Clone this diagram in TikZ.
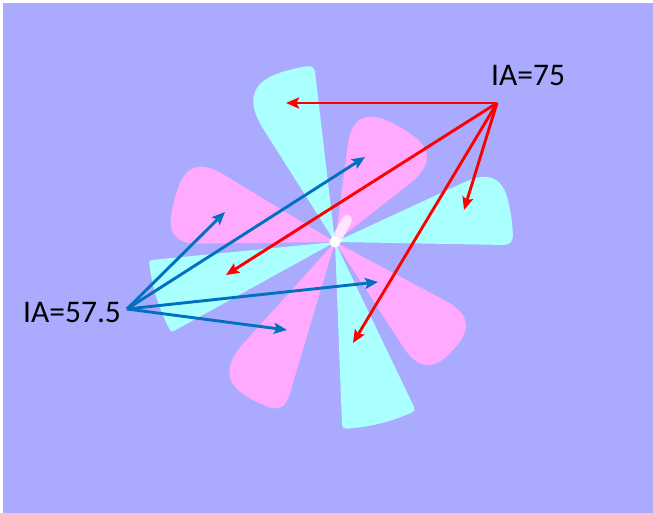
\documentclass[tikz,border=0pt]{standalone}
\usepackage{fontspec}
\setmainfont{Carlito}
\usetikzlibrary{arrows.meta,calc}
\definecolor{bgc}{RGB}{170,170,254}
\definecolor{cyanp}{RGB}{170,255,255}
\definecolor{pinkp}{RGB}{255,170,255}
\definecolor{redc}{RGB}{255,0,0}
\definecolor{bluec}{RGB}{0,112,192}
\tikzset{
  redarrow/.style={draw=redc, line width=2.9pt, -{Stealth[length=13pt,width=11pt,inset=2.5pt]}},
  bluearrow/.style={draw=bluec, line width=2.9pt, -{Stealth[length=13pt,width=11pt,inset=2.5pt]}},
  label/.style={anchor=base west, inner sep=0pt, font=\fontsize{31.5}{36}\selectfont, text=black}
}
% sector with rounded outer corners: color, a1, a2, r, d1, d2
\newcommand{\petal}[6]{%
  \pgfmathsetmacro{\pda}{#5/#4*57.2958}%
  \pgfmathsetmacro{\pdb}{#6/#4*57.2958}%
  \pgfmathsetmacro{\pa}{#2+\pda}%
  \pgfmathsetmacro{\pb}{#3-\pdb}%
  \pgfmathsetmacro{\ra}{#4-#5}%
  \pgfmathsetmacro{\rb}{#4-#6}%
  \pgfmathsetmacro{\ca}{#4/cos(\pda)}%
  \pgfmathsetmacro{\cb}{#4/cos(\pdb)}%
  \pgfmathsetmacro{\qa}{\ra+0.6667*(\ca-\ra)}%
  \pgfmathsetmacro{\qb}{\rb+0.6667*(\cb-\rb)}%
  \fill[#1] (0,0) -- (#2:\ra) .. controls (#2:\qa) and ($(\pa:#4)!0.6667!(#2:\ca)$) .. (\pa:#4)
    arc[start angle=\pa, end angle=\pb, radius=#4]
    .. controls ($(\pb:#4)!0.6667!(#3:\cb)$) and (#3:\qb) .. (#3:\rb) -- cycle;}
\begin{document}
\begin{tikzpicture}[x=1pt,y=1pt]
\useasboundingbox (0,0) rectangle (653,513);
\fill[white] (0,0) rectangle (653,513);
\fill[bgc] (3,0) rectangle (653,510);
% petals
\begin{scope}[shift={(335,271)}]
  \petal{cyanp}{96.7}{122.4}{178}{8}{45}
  \petal{cyanp}{-1}{24.8}{178}{10}{35}
  \petal{cyanp}{-87.8}{-64.4}{187}{4}{4}
  \petal{cyanp}{185.6}{208.9}{187}{3}{3}
  \petal{pinkp}{38}{82.5}{132}{38}{35}
  \petal{pinkp}{148.8}{180.7}{166}{35}{30}
  \petal{pinkp}{227.9}{253.4}{178}{42}{18}
  \petal{pinkp}{-57}{-28}{160}{35}{35}
\end{scope}
% center stick
\coordinate (c0) at (335,271);
\coordinate (c1) at (347,293);
\draw[white, opacity=0.7, line width=10pt, line cap=round] (c0) -- (c1);
\fill[white] (c0) circle (5.5);
% labels
\node[label] (ia75) at (491,427) {IA=75};
\node[label] (ia575) at (23,190) {IA=57.5};
\coordinate (r0) at (497,410);
\coordinate (b0) at (127,204);
\coordinate (r1) at (286,410);
\coordinate (r2) at (226,238);
\coordinate (r3) at (464,303);
\coordinate (r4) at (353,170);
\coordinate (b1) at (225,301);
\coordinate (b2) at (365,356);
\coordinate (b3) at (378,231);
\coordinate (b4) at (287,183);
\draw[bluearrow] (b0) -- (b1);
\draw[bluearrow] (b0) -- (b2);
\draw[bluearrow] (b0) -- (b3);
\draw[bluearrow] (b0) -- (b4);
\draw[redarrow] (r0) -- (r1);
\draw[redarrow] (r0) -- (r2);
\draw[redarrow] (r0) -- (r3);
\draw[redarrow] (r0) -- (r4);
\end{tikzpicture}
\end{document}
